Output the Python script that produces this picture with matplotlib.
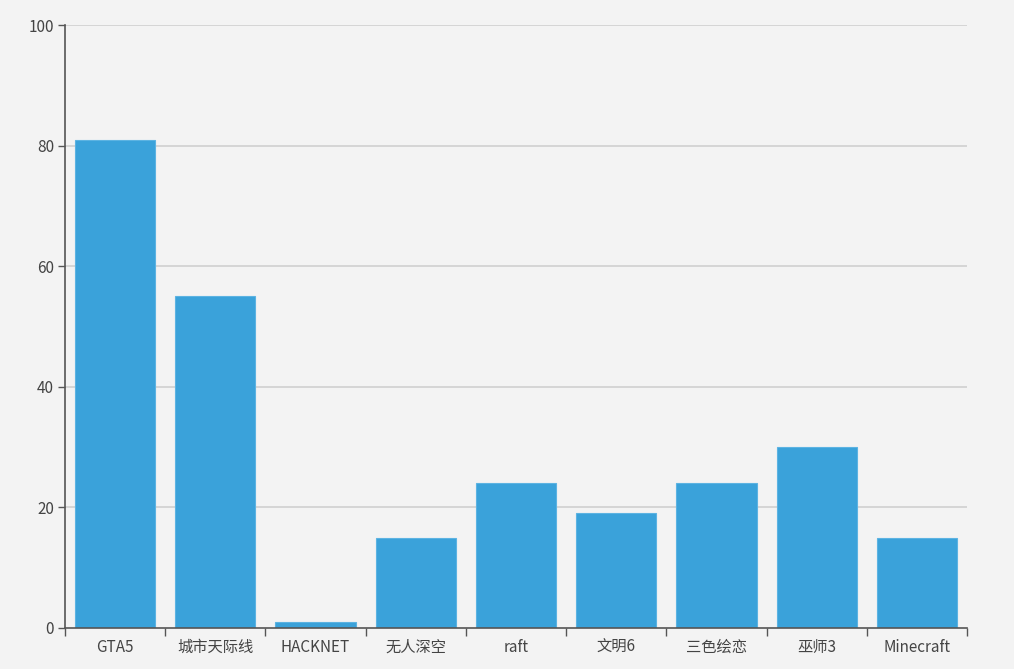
import matplotlib
matplotlib.use('Agg')
import matplotlib.pyplot as plt
import numpy as np

plt.rcParams['font.family'] = ['Noto Sans CJK SC', 'DejaVu Sans']

games = ['GTA5', '城市天际线', 'HACKNET', '无人深空', 'raft', '文明6', '三色绘恋', '巫师3', 'Minecraft']
hours = [81, 55, 1, 15, 24, 19, 24, 30, 15]
y_ticks = [0, 20, 40, 60, 80, 100]

bg = '#f3f3f3'
fig = plt.figure(figsize=(10.14, 6.69), dpi=100, facecolor=bg)
ax = fig.add_axes([65 / 1014, 41 / 669, 902 / 1014, 603 / 669], facecolor=bg)

x = np.arange(len(games))
ax.bar(x, hours, width=0.8, color='#3aa2da', edgecolor='#5cb3e2', linewidth=0.8, zorder=3)

ax.set_xlim(-0.5, len(games) - 0.5)
ax.set_ylim(0, 100)

# gridlines (not at 0, the axis covers it)
for v in y_ticks[1:]:
    ax.axhline(v, color='#d0d0d0', linewidth=1.2, zorder=1)

ax.set_yticks(y_ticks)
ax.set_yticklabels([str(v) for v in y_ticks])
ax.tick_params(axis='y', length=5, width=1, color='#555555', labelcolor='#444444',
               labelsize=11, pad=3)

# category boundaries get the ticks, names sit in the middle
ax.set_xticks(np.arange(len(games) + 1) - 0.5)
ax.set_xticklabels([])
ax.set_xticks(x, minor=True)
ax.set_xticklabels(games, minor=True)
ax.tick_params(axis='x', which='major', length=6, width=1, color='#555555')
ax.tick_params(axis='x', which='minor', length=0, labelcolor='#444444', labelsize=11, pad=8)

for side in ['top', 'right']:
    ax.spines[side].set_visible(False)
for side in ['left', 'bottom']:
    ax.spines[side].set_color('#555555')
    ax.spines[side].set_linewidth(1.2)
    ax.spines[side].set_zorder(4)

fig.savefig('out.png', dpi=100, facecolor=bg)
